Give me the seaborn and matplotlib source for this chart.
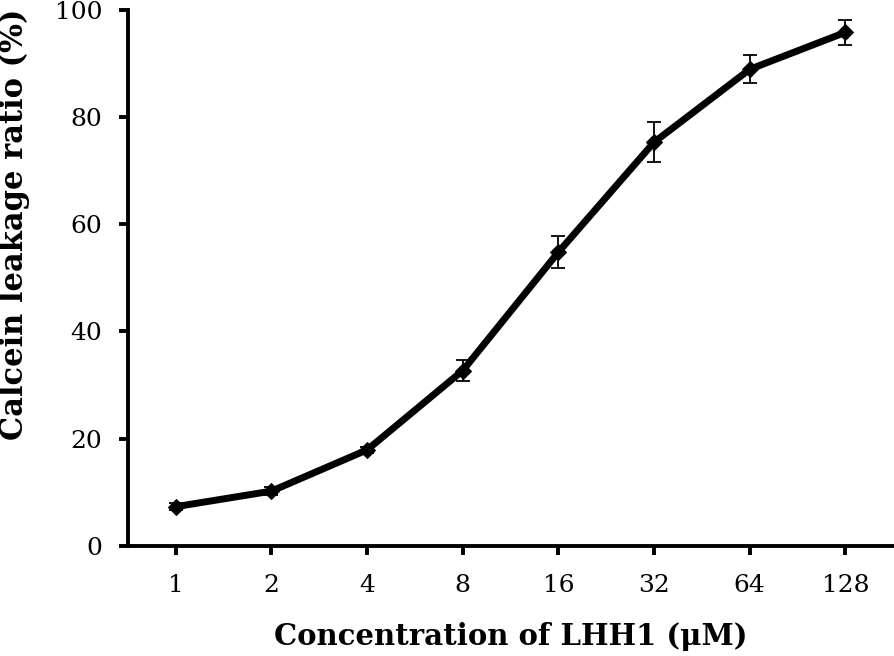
import numpy as np
import pandas as pd
import matplotlib
matplotlib.use("Agg")
import matplotlib.pyplot as plt
import seaborn as sns

# data
concentrations = ["1", "2", "4", "8", "16", "32", "64", "128"]
leakage = [7.3, 10.2, 17.9, 32.7, 54.8, 75.3, 88.9, 95.8]
leakage_sd = [0.6, 0.8, 0.6, 1.9, 3.0, 3.7, 2.6, 2.3]

df = pd.DataFrame({"pos": np.arange(len(concentrations)), "conc": concentrations,
                   "leak": leakage, "sd": leakage_sd})

sns.set_style("ticks")
plt.rcParams['font.family'] = ['DejaVu Serif']
plt.rcParams['text.color'] = 'black'
plt.rcParams['axes.labelcolor'] = 'black'
plt.rcParams['xtick.color'] = 'black'
plt.rcParams['ytick.color'] = 'black'
plt.rcParams['axes.edgecolor'] = 'black'

fig = plt.figure(figsize=(8.95, 6.56), dpi=100)
ax = fig.add_axes([0.143, 0.168, 0.855, 0.817])

ax.errorbar(df["pos"], df["leak"], yerr=df["sd"], fmt="none", ecolor="black",
            elinewidth=1.3, capsize=5, capthick=1.3, zorder=2)
sns.lineplot(data=df, x="pos", y="leak", ax=ax, color="black", linewidth=5,
             marker="D", markersize=8, markeredgecolor="black", zorder=3)

ax.set_xlim(-0.5, len(concentrations) - 0.5)
ax.set_ylim(0, 100)
ax.set_xticks(df["pos"])
ax.set_xticklabels(concentrations)
ax.set_yticks([0, 20, 40, 60, 80, 100])

for s in ["top", "right"]:
    ax.spines[s].set_visible(False)
for s in ["left", "bottom"]:
    ax.spines[s].set_linewidth(2.8)
ax.tick_params(axis="both", direction="out", length=6.5, width=2.8, labelsize=18)
ax.tick_params(axis="x", pad=14)
ax.tick_params(axis="y", pad=12)

ax.set_xlabel("Concentration of LHH1 (μM)", fontsize=21, fontweight="bold", labelpad=18)
ax.set_ylabel("Calcein leakage ratio (%)", fontsize=22, fontweight="bold")
ax.yaxis.set_label_coords(-0.128, 0.60)

plt.savefig("out.png", dpi=100)
